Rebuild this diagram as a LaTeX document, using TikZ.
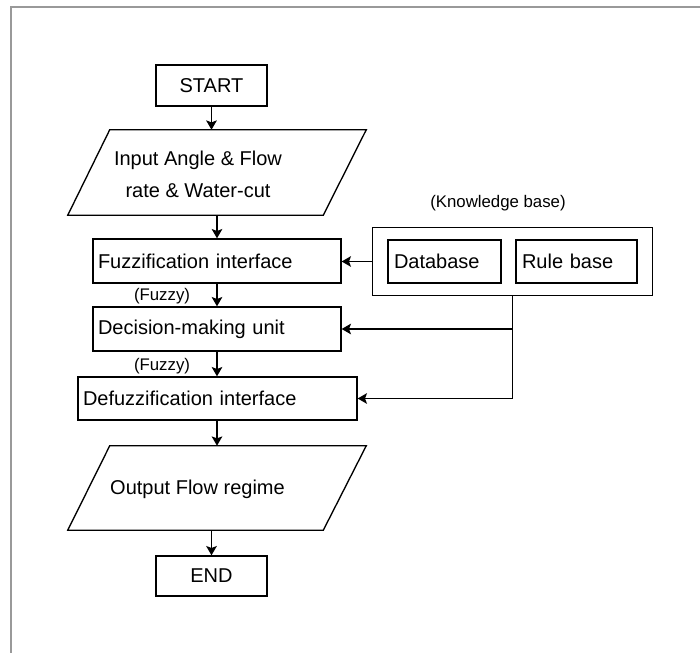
\documentclass[tikz,border=0pt]{standalone}
\usepackage{fontspec}
\setmainfont{Liberation Sans}
\usetikzlibrary{arrows.meta,fit,calc}

\tikzset{
  box/.style={draw, line width=1pt, inner xsep=3.75pt, inner ysep=0pt, align=left,
    font=\fontsize{15}{18}\selectfont},
  io/.style={minimum width=223.5pt, inner sep=0pt},
  iotext/.style={align=center, font=\fontsize{15}{24}\selectfont},
  lbl/.style={font=\fontsize{12.6}{15}\selectfont},
  arr/.style={-{Stealth[length=7pt,width=8pt,inset=1.5pt]}, line width=1pt},
  para/.style={line width=1pt, line join=miter},
}

\begin{document}
\begin{tikzpicture}[x=0.75pt,y=-0.75pt]
  \useasboundingbox (0,0) rectangle (700,653);
  % frame
  \draw[black!40, line width=1.5pt] (11,653) -- (11,7) -- (700,7);

  % main column
  \node[box, minimum width=83.25pt, minimum height=30.75pt] (start) at (211.5,85.5) {START};
  \node[io, minimum height=63.75pt] (input) at (217,172.5) {};
  \draw[para] ($(input.north west)+(42,0)$) -- (input.north east)
    -- ($(input.south east)+(-43,0)$) -- (input.south west) -- cycle;
  \node[iotext] (inputtxt) at (198,174) {Input Angle \& Flow\\rate \& Water-cut};

  \node[box, text width=178.5pt, minimum height=33pt] (fuzz) at (217,261) {Fuzzification interface};
  \node[box, text width=178.5pt, minimum height=33pt] (dec) at (217,329) {Decision-making unit};
  \node[box, text width=201.75pt, minimum height=32.25pt] (defuzz) at (217.5,398.5) {Defuzzification interface};

  \node[io, minimum height=63pt] (output) at (217,488) {};
  \draw[para] ($(output.north west)+(42,0)$) -- (output.north east)
    -- ($(output.south east)+(-43,0)$) -- (output.south west) -- cycle;
  \node[iotext] (outputtxt) at (197.5,489) {Output Flow regime};

  \node[box, minimum width=83.25pt, minimum height=30pt] (end) at (211.5,576) {END};

  \node[lbl] (fz1) at (162,296) {(Fuzzy)};
  \node[lbl] (fz2) at (162,366) {(Fuzzy)};

  % knowledge base
  \node[lbl] (kbtxt) at (498,203) {(Knowledge base)};
  \node[box, inner xsep=4.5pt, text width=75.75pt, minimum height=32.25pt] (db) at (444.5,261.5) {Database};
  \node[box, inner xsep=4.5pt, text width=81.75pt, minimum height=32.25pt] (rb) at (576.5,261.5) {Rule base};
  \node[draw, line width=1pt, fit=(db)(rb), inner xsep=11.25pt, inner ysep=9pt] (kb) {};

  % connectors
  \draw[arr] (start) -- (start |- input.north);
  \draw[arr] (input) -- (fuzz);
  \draw[arr] (fuzz) -- (dec);
  \draw[arr] (dec.south) -- (dec.south |- defuzz.north);
  \draw[arr] (defuzz.south -| input.south) -- (output.north);
  \draw[arr] (end |- output.south) -- (end);
  \draw[arr] (kb.west) -- (kb.west -| fuzz.east);
  \draw[arr] (kb.south) |- (defuzz.east);
  \draw[arr] (kb.south |- dec.east) -- (dec.east);
\end{tikzpicture}
\end{document}
